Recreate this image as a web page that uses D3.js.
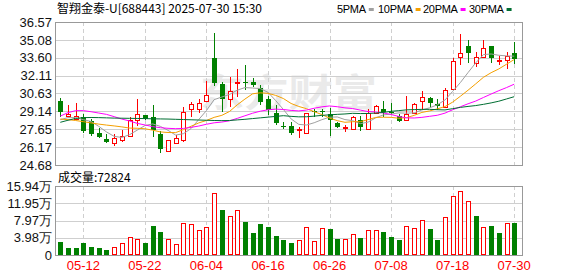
<!DOCTYPE html>
<html><head><meta charset="utf-8">
<script src="https://cdn.jsdelivr.net/npm/d3@7"></script>
<style>html,body{margin:0;padding:0;background:#fff;}svg{display:block;}</style>
</head><body><svg id="c" width="578" height="276"></svg>
<script>
const dates = ["05-07","05-08","05-09","05-12","05-13","05-14","05-15","05-16","05-19","05-20","05-21","05-22","05-23","05-26","05-27","05-28","05-29","05-30","06-03","06-04","06-05","06-06","06-09","06-10","06-11","06-12","06-13","06-16","06-17","06-18","06-19","06-20","06-23","06-24","06-25","06-26","06-27","06-30","07-01","07-02","07-03","07-04","07-07","07-08","07-09","07-10","07-11","07-14","07-15","07-16","07-17","07-18","07-21","07-22","07-23","07-24","07-25","07-28","07-29","07-30"];
const opens  = [30.00,28.75,28.53,28.67,28.34,27.34,26.84,26.54,26.73,27.06,28.40,28.81,28.64,27.23,25.84,26.51,26.76,29.31,29.31,30.03,33.58,31.41,30.20,31.47,31.58,31.58,31.05,30.17,28.97,27.95,27.92,27.59,27.31,29.20,29.17,28.95,28.14,27.73,27.70,28.42,27.70,28.97,29.31,29.09,28.75,28.42,29.03,30.03,30.22,29.75,29.47,31.03,33.63,34.57,33.13,33.63,34.57,33.38,33.41,33.97];
const highs  = [30.22,29.67,29.83,28.89,28.48,27.78,27.23,27.23,27.59,28.64,30.17,28.85,29.67,27.50,26.80,27.15,29.47,29.95,30.14,31.66,35.68,31.61,32.00,32.66,32.99,31.94,31.33,30.42,29.67,28.28,28.28,27.81,29.03,29.31,29.34,29.39,28.28,28.00,28.75,28.75,29.31,29.67,30.03,29.86,28.89,30.42,29.81,30.83,30.31,30.14,31.11,33.55,35.57,35.07,34.08,35.07,34.60,33.74,34.05,34.91];
const lows   = [28.70,28.70,28.42,27.37,27.12,26.92,26.54,26.29,26.62,27.00,27.92,28.45,27.04,25.70,25.80,26.43,26.62,28.70,28.97,29.95,31.25,29.11,29.53,30.36,30.92,31.19,29.67,28.84,28.00,27.67,27.17,26.95,27.26,28.70,28.70,27.10,27.73,27.45,27.59,27.53,27.65,28.92,28.70,28.81,28.28,28.37,28.97,29.25,29.39,29.25,29.39,30.92,33.00,33.13,32.80,33.55,33.19,33.00,32.66,33.08];
const closes = [29.06,28.92,28.75,27.51,27.26,27.01,26.62,26.90,27.06,28.42,28.89,28.53,27.59,26.04,26.76,26.92,29.11,29.72,29.81,30.47,31.47,30.20,30.80,31.58,31.53,31.30,29.95,29.25,28.14,27.84,27.37,27.70,28.97,29.09,29.11,28.40,27.81,27.87,28.64,27.87,29.03,29.59,29.11,28.97,28.36,28.92,29.72,30.31,29.86,29.59,30.94,33.30,33.97,34.02,33.63,34.38,33.55,33.44,33.77,33.50];
// volume in 万 (10k) shares
const volumes = [3.08,1.69,1.69,2.85,1.93,1.69,1.23,1.85,2.77,4.16,3.70,2.85,6.78,5.39,3.70,2.54,7.39,7.16,5.78,6.39,14.32,10.40,9.01,10.40,7.70,5.16,7.24,6.54,4.39,3.47,2.77,3.47,6.39,3.23,6.16,6.01,3.70,3.70,4.85,3.93,5.70,5.70,5.31,4.16,3.47,6.70,6.16,8.01,6.01,3.47,8.70,13.63,14.70,12.40,9.01,6.39,6.70,5.16,7.32,7.2824];
// moving-average values before enough closes exist
const ma5Lead  = [28.45,28.62,28.62,28.45];
const ma10Lead = [28.50,28.45,28.38,28.28,28.18,28.08,28.00,27.93,27.85];
const ma20Lead = [28.75,29.03,29.20,29.20,29.11,29.00,28.89,28.70,28.50,28.34,28.14,28.01,27.87,27.78,27.73,27.70,27.72,27.81,27.92];
const ma30Lead = [28.23,28.40,28.55,28.62,28.63,28.62,28.60,28.58,28.57,28.56,28.55,28.54,28.52,28.51,28.50,28.48,28.46,28.44,28.42,28.40,28.38,28.37,28.38,28.43,28.48,28.54,28.60,28.66,28.72];
const priceTicks = [24.68,26.17,27.65,29.14,30.63,32.11,33.60,35.08,36.57];
const volTicks = [0,3.98,7.97,11.95,15.94];
const xTickDates = ["05-12","05-22","06-04","06-16","06-26","07-08","07-18","07-30"];
const title = "智翔金泰-U[688443] 2025-07-30 15:30";
const legendNames = ["5PMA","10PMA","20PMA","30PMA"];
const maColors = ["#a0a0a0","#f5a000","#ff00ff","#006e32"];

const UP = "#ff0000", DOWN = "#008000";
const svg = d3.select("#c");
const L = 55, R = 522, PT = 22, PB = 165, VT = 186, VB = 255;
const cr = v => Math.round(v) + 0.5;

const x = d3.scalePoint().domain(dates).range([60.3, 514.2]);
const yP = d3.scaleLinear().domain([24.68, 36.57]).range([PB, PT]);
const yV = d3.scaleLinear().domain([0, 15.94]).range([VB, VT]);

// title & legend
svg.append("text").attr("x", 57).attr("y", 13).attr("font-family", "'Noto Sans CJK SC', sans-serif")
  .attr("font-size", 12).attr("fill", "#000").attr("textLength", 205).attr("lengthAdjust", "spacing").text(title);
const legX = [337, 378, 423, 469];
legendNames.forEach((n, k) => {
  const t = svg.append("text").attr("x", legX[k]).attr("y", 13).attr("font-family", "'Liberation Sans', Arial, sans-serif")
    .attr("font-size", 11).attr("fill", "#000").attr("letter-spacing", -0.3).text(n);
  const w = t.node().getComputedTextLength();
  svg.append("rect").attr("x", legX[k] + w + 3).attr("y", 8).attr("width", 5).attr("height", 3).attr("fill", maColors[k]);
});

// watermark
svg.append("text").attr("x", 200).attr("y", 106).attr("font-family", "'Noto Sans CJK SC', sans-serif")
  .attr("font-size", 38).attr("font-weight", "bold").attr("fill", "#eaeaea").attr("textLength", 177)
  .attr("lengthAdjust", "spacingAndGlyphs").text("东方财富");

function panel(yS, ticks, top, bottom, fmt) {
  const g = svg.append("g");
  g.selectAll("line.h").data(ticks).join("line")
    .attr("x1", L).attr("x2", R).attr("y1", d => cr(yS(d))).attr("y2", d => cr(yS(d)))
    .attr("stroke", "#cfcfcf").attr("stroke-width", 1);
  g.selectAll("line.v").data(xTickDates).join("line")
    .attr("x1", d => cr(x(d))).attr("x2", d => cr(x(d))).attr("y1", top).attr("y2", bottom)
    .attr("stroke", "#cfcfcf").attr("stroke-dasharray", "4,3");
  g.append("rect").attr("x", L + 0.5).attr("y", top + 0.5).attr("width", R - L).attr("height", bottom - top)
    .attr("fill", "none").attr("stroke", "#999");
  g.selectAll("text").data(ticks).join("text")
    .attr("x", 52).attr("y", d => yS(d)).attr("dy", "0.36em").attr("text-anchor", "end")
    .attr("font-family", "'Liberation Sans', Arial, sans-serif").attr("font-size", 13).attr("fill", "#111")
    .text(fmt);
}
panel(yP, priceTicks, PT, PB, d => d.toFixed(2));
panel(yV, volTicks, VT, VB, d => d === 0 ? "0" : d.toFixed(2) + "万");

// volume label
svg.append("text").attr("x", 58).attr("y", 182).attr("font-family", "'Noto Sans CJK SC', sans-serif")
  .attr("font-size", 12).attr("fill", "#000").text("成交量:" + Math.round(volumes[volumes.length - 1] * 10000));

// x labels
svg.selectAll("text.xl").data(xTickDates).join("text").attr("class", "xl")
  .attr("x", d => x(d)).attr("y", 270).attr("text-anchor", "middle")
  .attr("font-family", "'Liberation Sans', Arial, sans-serif").attr("font-size", 13).attr("fill", "#ff0000").text(d => d);

// MA lines
const maData = [[5, ma5Lead], [10, ma10Lead], [20, ma20Lead], [30, ma30Lead]].map(([n, lead]) =>
  closes.map((c, i) => i < n - 1 ? lead[i] : d3.mean(closes.slice(i - n + 1, i + 1))));

// candles
const cg = svg.append("g");
dates.forEach((d, i) => {
  const cx = cr(x(d));
  const o = opens[i], c = closes[i], up = c >= o;
  const col = up ? UP : DOWN;
  const yt = Math.round(yP(Math.max(o, c))), yb = Math.round(yP(Math.min(o, c)));
  const yh = Math.round(yP(highs[i])), yl = Math.round(yP(lows[i]));
  if (up) {
    cg.append("line").attr("x1", cx).attr("x2", cx).attr("y1", yh).attr("y2", yt).attr("stroke", col);
    cg.append("line").attr("x1", cx).attr("x2", cx).attr("y1", yb + 1).attr("y2", yl).attr("stroke", col);
    cg.append("rect").attr("x", cx - 2).attr("y", yt + 0.5).attr("width", 4).attr("height", Math.max(yb - yt, 1))
      .attr("fill", "#fff").attr("stroke", col);
  } else {
    cg.append("line").attr("x1", cx).attr("x2", cx).attr("y1", yh).attr("y2", yl).attr("stroke", col);
    cg.append("rect").attr("x", cx - 2.5).attr("y", yt).attr("width", 5).attr("height", Math.max(yb - yt, 1))
      .attr("fill", col);
  }
  // volume
  const vUp = i > 0 && c >= closes[i - 1];
  const vy = Math.round(yV(volumes[i]));
  if (vUp) {
    svg.append("rect").attr("x", cx - 2).attr("y", vy + 0.5).attr("width", 4).attr("height", VB - vy - 1)
      .attr("fill", "#fff").attr("stroke", UP);
  } else {
    svg.append("rect").attr("x", cx - 2.5).attr("y", vy).attr("width", 5).attr("height", VB - vy).attr("fill", DOWN);
  }
});

const line = d3.line().x((v, i) => x(dates[i])).y(v => yP(v));
maData.forEach((arr, k) => {
  svg.append("path").attr("d", line(arr)).attr("fill", "none").attr("stroke", maColors[k]).attr("stroke-width", 1);
});
</script></body></html>
